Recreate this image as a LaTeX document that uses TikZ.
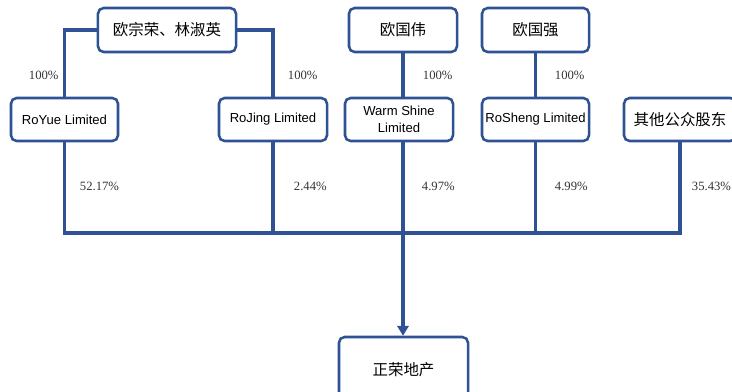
\documentclass[tikz,border=0pt]{standalone}
\usepackage{fontspec}
\setmainfont{Liberation Serif}
\newfontfamily\cjk{Noto Sans CJK SC}
\newfontfamily\lat{Liberation Sans}
\usetikzlibrary{arrows.meta}
\definecolor{lineblue}{RGB}{46,82,148}
\begin{document}
\begin{tikzpicture}[x=0.025cm,y=-0.025cm,
    box/.style={draw=lineblue,line width=1.8pt,rounded corners=4pt,fill=white,
      align=center,inner sep=1pt,minimum height=1.075cm},
    cnbox/.style={box,font=\cjk\fontsize{11}{13}\selectfont},
    enbox/.style={box,font=\lat\fontsize{9.3}{12}\selectfont},
    link/.style={draw=lineblue,line width=2.2pt},
    pct/.style={anchor=west,font=\fontsize{9}{10}\selectfont,text=black!80}]
    \useasboundingbox (0,0) rectangle (732,391);

    % Accionistas
    \node[cnbox,minimum width=3.45cm,minimum height=1.1cm] (ozr) at (167,30) {欧宗荣、林淑英};
    \node[cnbox,minimum width=2.7cm,minimum height=1.1cm] (ogw) at (403,30) {欧国伟};
    \node[cnbox,minimum width=2.675cm,minimum height=1.1cm] (ogq) at (535.5,30) {欧国强};

    % Sociedades intermedias
    \node[enbox,minimum width=2.675cm] (ryl) at (64.5,119.5) {RoYue Limited};
    \node[enbox,minimum width=2.7cm] (rjl) at (273,119.5) {RoJing Limited};
    \node[enbox,minimum width=2.7cm] (wsl) at (399,119.5) {Warm Shine\\Limited};
    \node[enbox,minimum width=2.675cm] (rsl) at (535.5,119.5) {RoSheng Limited};
    \node[cnbox,minimum width=2.8cm] (qt) at (680,119.5) {其他公众股东};

    % Sociedad final
    \node[cnbox,minimum width=3.225cm,minimum height=1.65cm] (zrdc) at (403.5,370) {正荣地产};

    \coordinate (bus) at (0,233);

    \draw[link] (ozr.west) -| (ryl.north);
    \draw[link] (ozr.east) -| (rjl.north);
    \draw[link] (ogw.south) -- (ogw.south |- wsl.north);
    \draw[link] (ogq.south) -- (rsl.north);

    \draw[link] (ryl.south) -- (ryl.south |- bus) -| (qt.south);
    \draw[link] (rjl.south) -- (rjl.south |- bus);
    \draw[link] (ogw.south |- wsl.south) -- (ogw.south |- bus);
    \draw[link] (rsl.south) -- (rsl.south |- bus);
    \draw[link,-{Triangle[width=8pt,length=7pt]}] (ogw.south |- bus) -- (ogw.south |- zrdc.north);

    \node[pct] (p1) at (24,75) {100\%};
    \node[pct] (p2) at (283,75) {100\%};
    \node[pct] (p3) at (418,75) {100\%};
    \node[pct] (p4) at (550,75) {100\%};

    \node[pct] (q1) at (75,186) {52.17\%};
    \node[pct] (q2) at (289,186) {2.44\%};
    \node[pct] (q3) at (417,186) {4.97\%};
    \node[pct] (q4) at (550,186) {4.99\%};
    \node[pct] (q5) at (687,186) {35.43\%};
\end{tikzpicture}
\end{document}
